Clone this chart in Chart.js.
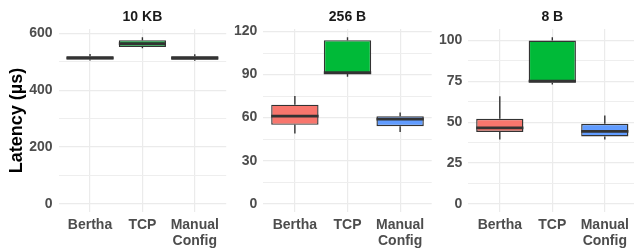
<!DOCTYPE html>
<html lang="en">
<head>
<meta charset="UTF-8">
<title>Latency by message size</title>
<script src="https://cdn.jsdelivr.net/npm/chart.js@4.4.0/dist/chart.umd.min.js"></script>
<style>
  html, body { margin: 0; padding: 0; background: #fff; overflow: hidden; width: 634px; height: 248px; }
  .panel { position: absolute; top: 0; }
</style>
</head>
<body>
<canvas id="p1" class="panel" width="228" height="248" style="left:0px"></canvas>
<canvas id="p2" class="panel" width="206" height="248" style="left:228px"></canvas>
<canvas id="p3" class="panel" width="204" height="248" style="left:434px"></canvas>
<script>
const categories = ['Bertha', 'TCP', ['Manual', 'Config']];
const boxColors = ['#F8766D', '#00BA38', '#619CFF'];

// 10 KB
const low10KB = [505, 548, 504];
const q1_10KB = [509, 553, 508];
const median10KB = [514, 565, 514];
const q3_10KB = [520, 577, 520];
const high10KB = [528, 587, 527];
const ticks10KB = [0, 200, 400, 600];

// 256 B
const low256B = [49, 88.5, 50];
const q1_256B = [55, 90.4, 54];
const median256B = [61, 91.3, 59];
const q3_256B = [69, 114, 61];
const high256B = [75, 116, 63.6];
const ticks256B = [0, 30, 60, 90, 120];

// 8 B
const low8B = [39.4, 73, 39.4];
const q1_8B = [44, 74.2, 41.2];
const median8B = [46.5, 75.2, 44.3];
const q3_8B = [52, 100, 49];
const high8B = [65.8, 102, 54];
const ticks8B = [0, 25, 50, 75, 100];

Chart.defaults.font.family = "'Liberation Sans', Arial, sans-serif";
Chart.defaults.animation = false;

const gridColor = '#EBEBEB';
const lineColor = '#333333';

// whiskers under the boxes, medians on top
const boxParts = {
    id: 'boxParts',
    beforeDatasetsDraw(chart, args, opts) {
        const ctx = chart.ctx, y = chart.scales.y;
        const bars = chart.getDatasetMeta(0).data;
        ctx.save();
        ctx.strokeStyle = lineColor;
        ctx.lineWidth = 1.4;
        bars.forEach((bar, i) => {
            ctx.beginPath();
            ctx.moveTo(bar.x, y.getPixelForValue(opts.high[i]));
            ctx.lineTo(bar.x, y.getPixelForValue(opts.q3[i]));
            ctx.moveTo(bar.x, y.getPixelForValue(opts.q1[i]));
            ctx.lineTo(bar.x, y.getPixelForValue(opts.low[i]));
            ctx.stroke();
        });
        ctx.restore();
    },
    afterDatasetsDraw(chart, args, opts) {
        const ctx = chart.ctx, y = chart.scales.y;
        const bars = chart.getDatasetMeta(0).data;
        ctx.save();
        ctx.strokeStyle = lineColor;
        ctx.lineWidth = 2.8;
        bars.forEach((bar, i) => {
            const py = y.getPixelForValue(opts.median[i]);
            ctx.beginPath();
            ctx.moveTo(bar.x - bar.width / 2, py);
            ctx.lineTo(bar.x + bar.width / 2, py);
            ctx.stroke();
        });
        ctx.restore();
    }
};

function makePanel(id, title, low, q1, median, q3, high, majorTicks, yWidth, padRight, showYTitle) {
    const top = Math.max(...high);
    const minorTicks = majorTicks.slice(1).map((v, i) => (v + majorTicks[i]) / 2);
    const allTicks = majorTicks.concat(minorTicks).sort((a, b) => a - b);

    return new Chart(document.getElementById(id), {
        type: 'bar',
        data: {
            datasets: [{
                data: categories.map((c, i) => ({ x: i, y: [q1[i], q3[i]] })),
                backgroundColor: boxColors,
                borderColor: lineColor,
                borderWidth: 1.4,
                borderSkipped: false,
                categoryPercentage: 0.9,
                barPercentage: 1
            }]
        },
        options: {
            responsive: false,
            layout: { padding: { left: 0, right: padRight, top: 0, bottom: 0 } },
            plugins: {
                legend: { display: false },
                tooltip: { enabled: false },
                title: {
                    display: true,
                    text: title,
                    fullSize: false,
                    color: '#1A1A1A',
                    font: { size: 14, weight: 'bold' },
                    padding: { top: 9, bottom: 3.2 }
                },
                boxParts: { low, q1, median, q3, high }
            },
            scales: {
                x: {
                    type: 'linear',
                    min: -0.6,
                    max: 2.6,
                    offset: false,
                    afterBuildTicks: s => { s.ticks = [0, 1, 2].map(v => ({ value: v })); },
                    afterFit: s => { s.height = 36; },
                    border: { display: false },
                    grid: { color: gridColor, lineWidth: 1.2, drawTicks: false, offset: false },
                    ticks: {
                        autoSkip: false,
                        maxRotation: 0,
                        padding: 5,
                        color: '#4D4D4D',
                        font: { size: 14, weight: 'bold', lineHeight: 1.15 },
                        callback: v => categories[v]
                    }
                },
                y: {
                    type: 'linear',
                    min: -0.05 * top,
                    max: 1.05 * top,
                    afterBuildTicks: s => { s.ticks = allTicks.map(v => ({ value: v })); },
                    afterFit: s => { s.width = yWidth; },
                    border: { display: false },
                    grid: {
                        color: c => majorTicks.includes(c.tick.value) ? gridColor : '#EEEEEE',
                        lineWidth: c => majorTicks.includes(c.tick.value) ? 1.2 : 1,
                        drawTicks: false
                    },
                    ticks: {
                        autoSkip: false,
                        padding: 6,
                        color: '#4D4D4D',
                        font: { size: 14, weight: 'bold' },
                        callback: v => majorTicks.includes(v) ? v : ''
                    },
                    title: {
                        display: showYTitle,
                        text: 'Latency (µs)',
                        color: '#000000',
                        font: { size: 18, weight: 'bold' },
                        padding: { top: 6, bottom: 0 }
                    }
                }
            }
        },
        plugins: [boxParts]
    });
}

makePanel('p1', '10 KB', low10KB, q1_10KB, median10KB, q3_10KB, high10KB, ticks10KB, 58.6, 1.8, true);
makePanel('p2', '256 B', low256B, q1_256B, median256B, q3_256B, high256B, ticks256B, 35.3, 2.3, false);
makePanel('p3', '8 B', low8B, q1_8B, median8B, q3_8B, high8B, ticks8B, 34.3, 1.7, false);
</script>
</body>
</html>
